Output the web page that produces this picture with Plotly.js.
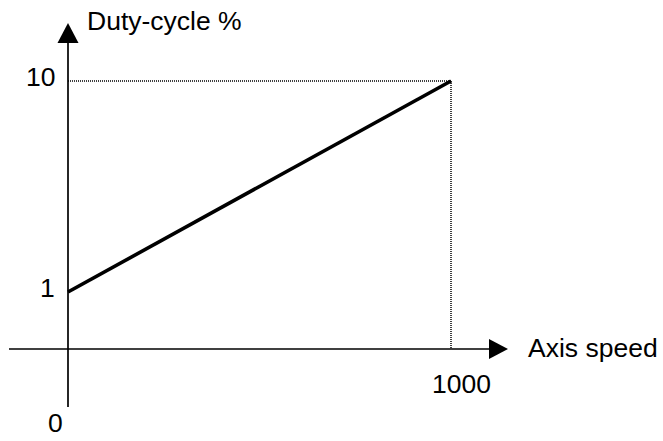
<!DOCTYPE html>
<html>
<head>
<meta charset="utf-8">
<script src="https://cdn.plot.ly/plotly-3.0.1.min.js"></script>
<style>html,body{margin:0;padding:0;background:#fff;}#chart{width:663px;height:441px;}</style>
</head>
<body>
<div id="chart"></div>
<script>
// ---- data ----
const speedValues = [0, 1000];
const dutyValues = [1, 10];
const yTickValues = [1, 10];
const yTickLabels = ["1", "10"];
const xTickValues = [1000];
const xTickLabels = ["1000"];
const originLabel = "0";
const xAxisTitle = "Axis speed";
const yAxisTitle = "Duty-cycle %";

// ---- layout geometry (pixels) ----
const W = 663, H = 441;
const X0PX = 68, X1PX = 451;      // x=0, x=1000
const Y1PX = 292, Y10PX = 81;     // y=1, y=10
const sx = (X1PX - X0PX) / (speedValues[1] - speedValues[0]);
const sy = (Y1PX - Y10PX) / (dutyValues[1] - dutyValues[0]);
const xRange = [speedValues[0] - X0PX / sx, speedValues[0] + (W - X0PX) / sx];
const yRange = [dutyValues[0] - (H - Y1PX) / sy, dutyValues[0] + Y1PX / sy];
const px = v => v / W;
const py = v => 1 - v / H;
const AXIS_Y_PX = 349;
const axisYData = dutyValues[0] - (AXIS_Y_PX - Y1PX) / sy;

const font = {family: "Liberation Sans, Arial, sans-serif", size: 26.5, color: "#000"};

const shapes = [
  // y axis line
  {type: "line", xref: "paper", yref: "paper", x0: px(X0PX), x1: px(X0PX), y0: py(42), y1: py(407), line: {color: "#000", width: 1.7}},
  // x axis line
  {type: "line", xref: "paper", yref: "paper", x0: px(9), x1: px(490), y0: py(AXIS_Y_PX), y1: py(AXIS_Y_PX), line: {color: "#000", width: 1.7}},
  // y arrow head
  {type: "path", xref: "paper", yref: "paper",
   path: `M ${px(X0PX)} ${py(23)} L ${px(57.5)} ${py(43)} L ${px(78.5)} ${py(43)} Z`,
   fillcolor: "#000", line: {color: "#000", width: 0}},
  // x arrow head
  {type: "path", xref: "paper", yref: "paper",
   path: `M ${px(508)} ${py(AXIS_Y_PX)} L ${px(489)} ${py(339)} L ${px(489)} ${py(359)} Z`,
   fillcolor: "#000", line: {color: "#000", width: 0}},
  // dotted guides
  {type: "line", xref: "x", yref: "y", x0: speedValues[0], x1: speedValues[1], y0: dutyValues[1], y1: dutyValues[1],
   line: {color: "#000", width: 1.3, dash: "1px,1px"}},
  {type: "line", xref: "x", yref: "y", x0: speedValues[1], x1: speedValues[1], y0: dutyValues[1], y1: axisYData,
   line: {color: "#000", width: 1.5, dash: "1px,1px"}}
];

const annotations = [];
yTickValues.forEach((v, i) => {
  annotations.push({x: 0, y: v, xref: "x", yref: "y", text: yTickLabels[i], showarrow: false,
    xanchor: "right", yanchor: "middle", xshift: -11, yshift: 4, font: font});
});
xTickValues.forEach((v, i) => {
  annotations.push({x: v, y: axisYData, xref: "x", yref: "y", text: xTickLabels[i], showarrow: false,
    xanchor: "center", yanchor: "middle", xshift: 10, yshift: -35, font: font});
});
annotations.push({x: px(55), y: py(423), xref: "paper", yref: "paper", text: originLabel, showarrow: false,
  xanchor: "center", yanchor: "middle", font: font});
annotations.push({x: px(526), y: py(348), xref: "paper", yref: "paper", text: xAxisTitle, showarrow: false,
  xanchor: "left", yanchor: "middle", font: font});
annotations.push({x: px(85), y: py(21), xref: "paper", yref: "paper", text: yAxisTitle, showarrow: false,
  xanchor: "left", yanchor: "middle", font: font});

const trace = {
  x: speedValues, y: dutyValues, type: "scatter", mode: "lines",
  line: {color: "#000", width: 3.6}, hoverinfo: "skip"
};

const layout = {
  width: W, height: H,
  margin: {l: 0, r: 0, t: 0, b: 0, pad: 0},
  paper_bgcolor: "#fff", plot_bgcolor: "#fff",
  showlegend: false, hovermode: false,
  xaxis: {range: xRange, visible: false, fixedrange: true},
  yaxis: {range: yRange, visible: false, fixedrange: true},
  shapes: shapes, annotations: annotations, font: font
};

Plotly.newPlot("chart", [trace], layout, {staticPlot: true, displayModeBar: false});
</script>
</body>
</html>
